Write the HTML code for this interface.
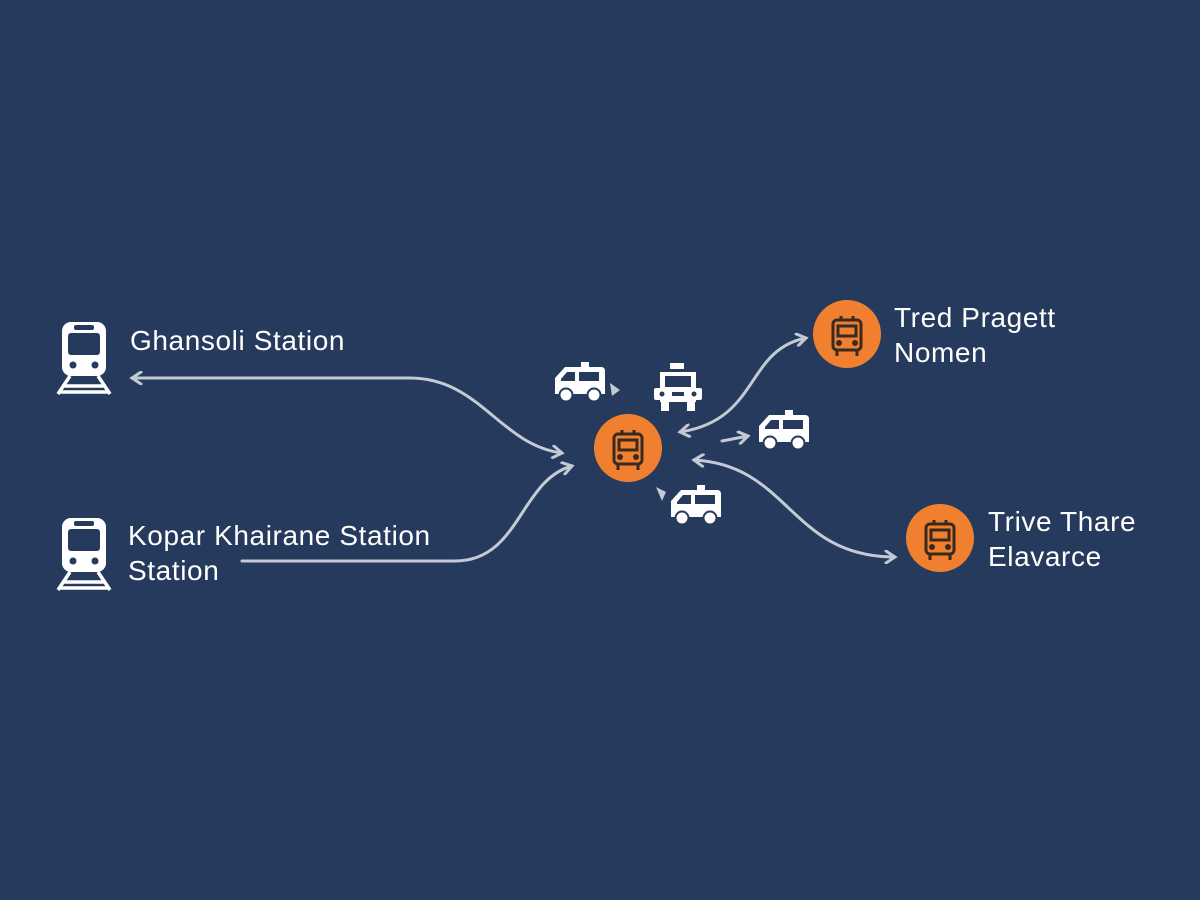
<!DOCTYPE html>
<html><head><meta charset="utf-8"><style>
html,body{margin:0;padding:0;background:#253a5c;}
svg{display:block}
text{font-family:"Liberation Sans",sans-serif;fill:#fff;font-size:28px;letter-spacing:0.6px}
</style></head><body>
<svg width="1200" height="900" viewBox="0 0 1200 900">
<rect width="1200" height="900" fill="#253a5c"/>
<defs>
<g id="train">
<rect x="6" y="0" width="44" height="54" rx="9" fill="#fff"/>
<rect x="18" y="3" width="20" height="5" rx="2" fill="#253a5c"/>
<rect x="12" y="11" width="32" height="22" rx="3" fill="#253a5c"/>
<circle cx="17" cy="43" r="3.5" fill="#253a5c"/><circle cx="39" cy="43" r="3.5" fill="#253a5c"/>
<path d="M14 54 L2 72 M42 54 L54 72 M6 64 H50 M4 70 H52" stroke="#fff" stroke-width="3.5" fill="none"/>
</g>
<g id="van">
<path d="M2 32 L2 16 L12 5 L48 5 Q52 5 52 9 L52 32 Z" fill="#fff"/>
<rect x="28" y="0" width="8" height="5" fill="#fff"/>
<path d="M8 17 L14 10 L22 10 L22 19 L8 19Z" fill="#253a5c"/>
<rect x="26" y="10" width="20" height="9" fill="#253a5c"/>
<circle cx="13" cy="33" r="6.5" fill="#fff" stroke="#253a5c" stroke-width="2"/>
<circle cx="41" cy="33" r="6.5" fill="#fff" stroke="#253a5c" stroke-width="2"/>
</g>
<g id="bus" fill="none" stroke="#3a2a1e" stroke-width="3">
<rect x="-14" y="-16" width="28" height="30" rx="4"/>
<rect x="-9" y="-10" width="18" height="10" fill="#f08030"/>
<path d="M-6 -16 V-20 M6 -16 V-20 M-10 14 V20 M10 14 V20"/>
<circle cx="-8" cy="7" r="1.5" fill="#3a2a1e"/><circle cx="8" cy="7" r="1.5" fill="#3a2a1e"/>
</g>
<marker id="ah" markerWidth="14" markerHeight="14" refX="11" refY="7" orient="auto-start-reverse" markerUnits="userSpaceOnUse">
<path d="M2 1 L11 7 L2 13" fill="none" stroke="#c3cad4" stroke-width="3" stroke-linecap="round"/>
</marker>
</defs>

<use href="#train" x="56" y="322"/>
<use href="#train" x="56" y="518"/>
<text x="130" y="350">Ghansoli Station</text>
<text x="128" y="545">Kopar Khairane Station</text>
<text x="128" y="580">Station</text>
<text x="894" y="327">Tred Pragett</text>
<text x="894" y="362">Nomen</text>
<text x="988" y="531">Trive Thare</text>
<text x="988" y="566">Elavarce</text>

<g fill="none" stroke="#c3cad4" stroke-width="3" stroke-linecap="round">
<path d="M562 453 C500 445 480 378 410 378 L132 378" marker-start="url(#ah)" marker-end="url(#ah)"/>
<path d="M242 561 L455 561 C520 561 520 480 572 466" marker-end="url(#ah)"/>
<path d="M680 432 C760 420 745 350 806 338" marker-start="url(#ah)" marker-end="url(#ah)"/>
<path d="M694 460 C790 465 790 557 895 557" marker-start="url(#ah)" marker-end="url(#ah)"/>
<path d="M722 441 L748 436" marker-end="url(#ah)"/>
</g>
<path d="M610 383 L620 390 L612 396Z" fill="#c3cad4"/>
<path d="M656 487 L666 492 L662 501Z" fill="#c3cad4"/>

<circle cx="628" cy="448" r="34" fill="#f08030"/>
<use href="#bus" x="628" y="450"/>
<circle cx="847" cy="334" r="34" fill="#f08030"/>
<use href="#bus" x="847" y="336"/>
<circle cx="940" cy="538" r="34" fill="#f08030"/>
<use href="#bus" x="940" y="540"/>

<use href="#van" x="553" y="362"/>
<use href="#van" x="757" y="410"/>
<use href="#van" x="669" y="485"/>
<g fill="#fff">
<rect x="670" y="363" width="14" height="6"/>
<path d="M660 372 H696 V402 H660Z"/>
<rect x="654" y="388" width="48" height="12" rx="2"/>
<rect x="661" y="401" width="8" height="10"/><rect x="687" y="401" width="8" height="10"/>
<rect x="665" y="376" width="26" height="11" fill="#253a5c"/>
<rect x="672" y="392" width="12" height="4" fill="#253a5c"/>
<circle cx="662" cy="394" r="2.5" fill="#253a5c"/><circle cx="694" cy="394" r="2.5" fill="#253a5c"/>
</g>
</svg>
</body></html>
